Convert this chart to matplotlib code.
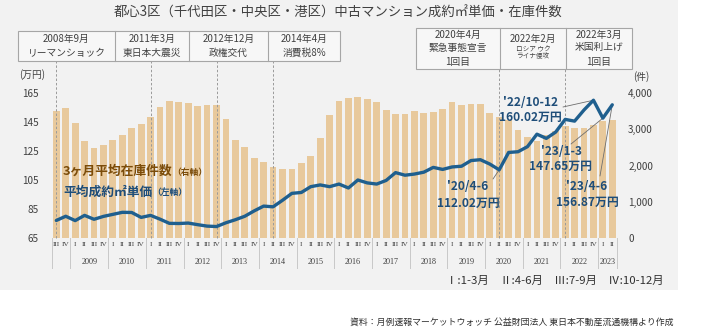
import matplotlib
matplotlib.use('Agg')
import matplotlib.pyplot as plt
from matplotlib.patches import Rectangle
from matplotlib.lines import Line2D
import matplotlib.transforms as mtransforms

W, H = 709, 332
JP = ['Noto Sans CJK JP', 'DejaVu Sans']
plt.rcParams['font.family'] = JP

# ---------------- data ----------------
years = ['2008'] * 2 + [str(y) for y in range(2009, 2023) for _ in range(4)] + ['2023'] * 2
quarters = ['III', 'IV'] + ['I', 'II', 'III', 'IV'] * 14 + ['I', 'II']

inventory = [3510, 3595, 3180, 2680, 2490, 2566, 2703, 2841, 3040, 3145,
             3340, 3620, 3785, 3752, 3724, 3641, 3669, 3669, 3280, 2703,
             2515, 2216, 2097, 1959, 1903, 1903, 2069, 2262, 2768, 3393,
             3779, 3853, 3890, 3834, 3761, 3531, 3411, 3411, 3503, 3448,
             3476, 3559, 3755, 3669, 3692, 3687, 3440, 3345, 3245, 2979,
             2795, 2675, 2850, 2955, 3095, 3025, 3043, 3125, 3218, 3265]

price = [77.1, 80.0, 77.0, 80.6, 77.9, 79.9, 81.3, 82.7, 82.6, 79.2,
         80.6, 78.0, 75.1, 75.0, 75.3, 74.2, 73.2, 72.9, 75.5, 77.6,
         80.0, 83.7, 87.0, 86.5, 91.0, 95.8, 96.4, 100.4, 101.6, 100.4,
         102.2, 99.5, 105.0, 103.0, 102.2, 104.7, 110.1, 108.3, 109.1, 110.4,
         113.7, 112.3, 114.0, 114.5, 118.4, 119.0, 116.0, 112.02, 124.0, 124.5,
         128.0, 136.6, 133.7, 138.1, 146.8, 145.6, 153.3, 160.02, 147.65, 156.87]

left_ticks = [65, 85, 105, 125, 145, 165]
right_ticks = [0, 1000, 2000, 3000, 4000]

events_left = [('2008', 'III', '2008年9月', 'リーマンショック'),
               ('2011', 'I', '2011年3月', '東日本大震災'),
               ('2012', 'IV', '2012年12月', '政権交代'),
               ('2014', 'II', '2014年4月', '消費税8%')]
events_right = [('2020', 'II'), ('2022', 'I')]

callouts = [('2020', 'II', "'20/4-6", '112.02万円'),
            ('2022', 'IV', "'22/10-12", '160.02万円'),
            ('2023', 'I', "'23/1-3", '147.65万円'),
            ('2023', 'II', "'23/4-6", '156.87万円')]

# ---------------- colours ----------------
BG = '#F2F2F2'
BAR = '#E8C99C'
LINE = '#1F5F8E'
BLUE_TXT = '#1F4E79'
BROWN = '#7B4C0A'
GRAY_TXT = '#404040'
BOX_EDGE = '#A6A6A6'


def fx(x):
    return x / W


def fy(y):
    return 1 - y / H


def idx(y, q):
    for i, (yy, qq) in enumerate(zip(years, quarters)):
        if yy == y and qq == q:
            return i
    return None


fig = plt.figure(figsize=(W / 100, H / 100), dpi=100)
fig.patch.set_facecolor('white')
fig.add_artist(Rectangle((0, fy(290)), fx(678), 290 / H, transform=fig.transFigure,
                         facecolor=BG, edgecolor='none', zorder=-10))

X0, X1, YT, YB = 51.6, 617.0, 93.0, 238.0
ax = fig.add_axes([fx(X0), fy(YB), (X1 - X0) / W, (YB - YT) / H])
ax2 = ax.twinx()
ax.set_zorder(2)
ax.patch.set_visible(False)

n = len(inventory)
xs = list(range(n))
ax2.bar(xs, inventory, width=0.72, color=BAR, edgecolor='none', zorder=1)
ax.plot(xs, price, color=LINE, lw=2.4, solid_joinstyle='round', solid_capstyle='round', zorder=5)

ax.set_xlim(-0.5, n - 0.5)
ax.set_ylim(65, 165)
ax2.set_ylim(0, 4000)

for a in (ax, ax2):
    for s in a.spines.values():
        s.set_visible(False)
    a.set_xticks([])

ax.set_yticks(left_ticks)
ax.set_yticklabels([str(t) for t in left_ticks])
ax.tick_params(axis='y', length=0, pad=9.5, labelsize=7.2, labelcolor=GRAY_TXT)
ax2.set_yticks(right_ticks)
ax2.set_yticklabels([f'{t:,}' for t in right_ticks])
ax2.tick_params(axis='y', length=0, pad=8, labelsize=7.2, labelcolor=GRAY_TXT)

# unit labels
fig.text(fx(32), fy(75), '(万円)', ha='center', va='center', fontsize=7, color=GRAY_TXT)
fig.text(fx(641), fy(77), '(件)', ha='center', va='center', fontsize=7, color=GRAY_TXT)

# title
fig.text(fx(338), fy(12.5), '都心3区（千代田区・中央区・港区）中古マンション成約㎡単価・在庫件数',
         ha='center', va='center', fontsize=9.6, color=GRAY_TXT)

# category axis
tr = mtransforms.blended_transform_factory(ax.transData, ax.transAxes)
for i, q in enumerate(quarters):
    ax.text(i, (YB - 245) / (YB - YT), q, transform=tr, ha='center', va='center',
            fontsize=5.4, family=['Liberation Serif', 'DejaVu Serif'], color=GRAY_TXT, clip_on=False)
bounds = [-0.5]
for i in range(1, n):
    if years[i] != years[i - 1]:
        bounds.append(i - 0.5)
bounds.append(n - 0.5)
for b in bounds:
    ax.add_line(Line2D([b, b], [0, (YB - 268) / (YB - YT)], transform=tr, color='#C8C8C8',
                       lw=0.7, clip_on=False))
for k in range(len(bounds) - 1):
    yr = years[int(bounds[k] + 0.5)]
    if yr == '2008':
        continue
    ax.text((bounds[k] + bounds[k + 1]) / 2, (YB - 262) / (YB - YT), yr, transform=tr,
            ha='center', va='center', fontsize=5.9, family=['Liberation Serif', 'DejaVu Serif'],
            color=GRAY_TXT, clip_on=False)

LB_TOP, LB_BOT = 31, 61
RB_TOP, RB_BOT = 28, 69

# event dashed lines
for (y, q, *_rest) in events_left:
    i = idx(y, q)
    ax2.add_line(Line2D([i, i], [0, (YB - LB_BOT) / (YB - YT)], transform=tr, color='#9A9A9A',
                        lw=0.7, ls=(0, (2.5, 2)), clip_on=False, zorder=3))
for (y, q) in events_right:
    i = idx(y, q)
    ax2.add_line(Line2D([i, i], [0, (YB - RB_BOT) / (YB - YT)], transform=tr, color='#9A9A9A',
                        lw=0.7, ls=(0, (2.5, 2)), clip_on=False, zorder=3))


def box_row(edges, top, bottom):
    fig.add_artist(Rectangle((fx(edges[0]), fy(bottom)), (edges[-1] - edges[0]) / W,
                             (bottom - top) / H, transform=fig.transFigure, facecolor='#F7F7F7',
                             edgecolor=BOX_EDGE, lw=0.8, zorder=1))
    for e in edges[1:-1]:
        fig.add_artist(Line2D([fx(e), fx(e)], [fy(top), fy(bottom)], transform=fig.transFigure,
                              color=BOX_EDGE, lw=0.8, zorder=2))


left_edges = [18, 115, 189, 268, 340]
box_row(left_edges, LB_TOP, LB_BOT)
for k, (_, _, l1, l2) in enumerate(events_left):
    cx = (left_edges[k] + left_edges[k + 1]) / 2
    fig.text(fx(cx), fy(38.5), l1, ha='center', va='center', fontsize=7, color=GRAY_TXT)
    fig.text(fx(cx), fy(53), l2, ha='center', va='center', fontsize=7, color=GRAY_TXT)

right_edges = [416, 500, 566, 632]
box_row(right_edges, RB_TOP, RB_BOT)
c1 = (right_edges[0] + right_edges[1]) / 2
c2 = (right_edges[1] + right_edges[2]) / 2
c3 = (right_edges[2] + right_edges[3]) / 2
for txt, yy in [('2020年4月', 34.5), ('緊急事態宣言', 48), ('1回目', 61.5)]:
    fig.text(fx(c1), fy(yy), txt, ha='center', va='center', fontsize=7, color=GRAY_TXT)
fig.text(fx(c2), fy(39), '2022年2月', ha='center', va='center', fontsize=7, color=GRAY_TXT)
fig.text(fx(c2), fy(49.5), 'ロシア ウク', ha='center', va='center', fontsize=4.8, color=GRAY_TXT)
fig.text(fx(c2), fy(56.5), 'ライナ侵攻', ha='center', va='center', fontsize=4.8, color=GRAY_TXT)
for txt, yy in [('2022年3月', 34.5), ('米国利上げ', 47), ('1回目', 61.5)]:
    fig.text(fx(c3), fy(yy), txt, ha='center', va='center', fontsize=7, color=GRAY_TXT)

# series labels
fig.text(fx(63), fy(171), '3ヶ月平均在庫件数', ha='left', va='center', fontsize=9.2,
         fontweight='bold', color=BROWN)
fig.text(fx(172), fy(172), '（右軸）', ha='left', va='center', fontsize=6.3,
         fontweight='bold', color=BROWN)
fig.text(fx(63), fy(192), '平均成約㎡単価', ha='left', va='center', fontsize=9.2,
         fontweight='bold', color=BLUE_TXT)
fig.text(fx(152), fy(193), '（左軸）', ha='left', va='center', fontsize=6.3,
         fontweight='bold', color=BLUE_TXT)

# callouts
layout = {
    "'20/4-6": ((468, 187), (468, 203), (493, 179)),
    "'22/10-12": ((530, 102), (530, 117), (563, 107)),
    "'23/1-3": ((561, 152), (560, 166), (571, 144)),
    "'23/4-6": ((587, 186), (587, 202), (600, 176)),
}
for (y, q, l1, l2) in callouts:
    i = idx(y, q)
    (p1, p2, st) = layout[l1]
    fig.text(fx(p1[0]), fy(p1[1]), l1, ha='center', va='center', fontsize=8.6,
             fontweight='bold', color=BLUE_TXT, zorder=6)
    fig.text(fx(p2[0]), fy(p2[1]), l2, ha='center', va='center', fontsize=8.6,
             fontweight='bold', color=BLUE_TXT, zorder=6)
    ax.annotate('', xy=(i, price[i]), xycoords='data', xytext=(st[0], H - st[1]),
                textcoords='figure pixels',
                arrowprops=dict(arrowstyle='-', color='#6E6E6E', lw=0.6, shrinkA=0, shrinkB=0))

# quarter legend & source
fig.text(fx(664), fy(281), 'Ⅰ:1-3月　Ⅱ:4-6月　Ⅲ:7-9月　Ⅳ:10-12月', ha='right', va='center',
         fontsize=8.2, color='#303030')
fig.text(fx(350), fy(322), '資料：月例速報マーケットウォッチ 公益財団法人 東日本不動産流通機構より作成',
         ha='left', va='center', fontsize=6.4, color='#303030')

fig.savefig('out.png', dpi=100, facecolor=fig.get_facecolor())
